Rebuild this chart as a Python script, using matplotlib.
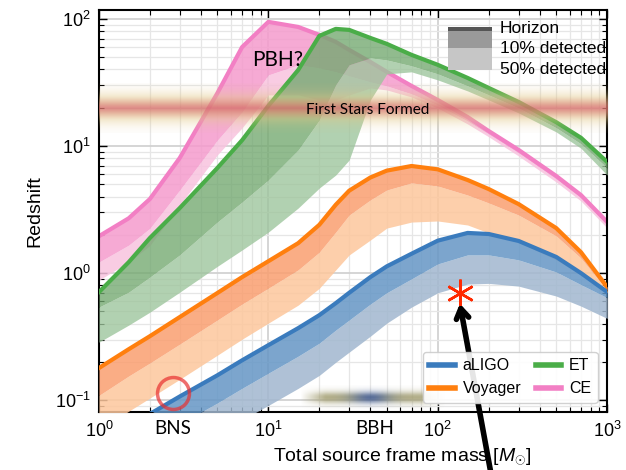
import matplotlib
matplotlib.use("Agg")
import matplotlib.pyplot as plt
import numpy as np
from matplotlib.patches import Rectangle

plt.rcParams["font.family"] = ["Liberation Sans", "DejaVu Sans"]
plt.rcParams["mathtext.fontset"] = "custom"
plt.rcParams["mathtext.rm"] = "Liberation Sans"
plt.rcParams["mathtext.it"] = "Liberation Sans:italic"

# total source frame mass grid [Msun]
mass = [1, 1.5, 2, 3, 5, 7, 10, 15, 20, 25, 30, 40, 50, 70, 100, 150, 200, 300, 500, 700, 1000]

# redshift: horizon, 10% detected, 50% detected
ligo_hor = [0.046, 0.062, 0.078, 0.107, 0.157, 0.206, 0.271, 0.369, 0.467, 0.58, 0.70,
            0.93, 1.13, 1.42, 1.80, 2.07, 2.03, 1.79, 1.34, 1.0, 0.71]
ligo_10 = [0.028, 0.038, 0.047, 0.065, 0.095, 0.124, 0.163, 0.222, 0.281, 0.356, 0.427,
           0.57, 0.70, 0.90, 1.18, 1.39, 1.39, 1.27, 1.02, 0.81, 0.64]
ligo_50 = [0.0155, 0.021, 0.026, 0.036, 0.053, 0.070, 0.091, 0.124, 0.157, 0.199, 0.239,
           0.319, 0.404, 0.54, 0.70, 0.82, 0.83, 0.79, 0.66, 0.55, 0.44]

voy_hor = [0.179, 0.252, 0.319, 0.451, 0.697, 0.93, 1.24, 1.72, 2.40, 3.45, 4.45,
           5.65, 6.40, 6.96, 6.55, 5.40, 4.58, 3.49, 2.26, 1.46, 0.776]
voy_10 = [0.109, 0.155, 0.196, 0.276, 0.427, 0.57, 0.76, 1.06, 1.46, 2.10, 2.86,
          3.76, 4.50, 5.12, 4.84, 4.11, 3.56, 2.86, 1.96, 1.31, 0.73]
voy_50 = [0.058, 0.082, 0.104, 0.146, 0.226, 0.302, 0.404, 0.56, 0.76, 1.06, 1.39,
          1.82, 2.26, 2.52, 2.57, 2.39, 2.07, 1.75, 1.27, 0.98, 0.70]

et_hor = [0.708, 1.22, 1.89, 3.25, 6.71, 11.1, 20.7, 39.6, 73.5, 83.4, 81.9,
          70.8, 63.6, 52.1, 43.5, 34.3, 28.6, 22.2, 15.4, 11.6, 7.48]
et_10 = [0.54, 0.708, 0.93, 1.39, 2.52, 3.62, 5.40, 9.3, 16.0, 30.2, 43.5,
         49.3, 47.5, 42.7, 36.9, 29.7, 25.2, 19.9, 13.9, 10.4, 6.71]
et_50 = [0.286, 0.39, 0.493, 0.708, 1.13, 1.52, 2.10, 3.25, 4.67, 5.91, 7.76,
         23.0, 36.9, 38.3, 33.1, 27.1, 23.0, 18.2, 12.9, 9.6, 5.9]

ce_hor = [1.95, 2.70, 3.83, 8.05, 26.0, 60.0, 94.7, 86.4, 74.8, 65.9, 57.0,
          45.8, 38.3, 29.7, 23.0, 16.9, 13.1, 9.31, 5.81, 4.11, 2.52]
ce_10 = [1.22, 1.66, 2.25, 4.50, 11.1, 18.5, 36.2, 43.5, 41.1, 38.3, 35.6,
         31.9, 29.7, 25.7, 21.0, 15.7, 12.4, 8.81, 5.50, 3.90, 2.39]
ce_50 = [0.88, 1.22, 1.65, 3.43, 8.5, 13.9, 25.2, 25.2, 23.0, 23.0, 25.2,
         28.6, 27.6, 24.3, 19.9, 14.9, 11.8, 8.34, 5.21, 3.69, 2.26]

# (name, horizon, 10%, 50%, line colour, 10% fill, 50% fill, fill alpha)
detectors = [
    ("CE", ce_hor, ce_10, ce_50, "#f27fc4", "#f59bcd", "#f8c3df", 0.85),
    ("ET", et_hor, et_10, et_50, "#4aad48", "#72a86f", "#9cc49b", 0.78),
    ("Voyager", voy_hor, voy_10, voy_50, "#ff7f0e", "#fa9f70", "#fdc79c", 0.85),
    ("aLIGO", ligo_hor, ligo_10, ligo_50, "#3a7bbd", "#6596c5", "#a1b7cf", 0.85),
]

fig, ax = plt.subplots(figsize=(6.26, 4.70), dpi=100)
fig.subplots_adjust(left=0.158, right=0.970, bottom=0.123, top=0.979)

handles = {}
for i, (name, hor, z10, z50, lc, c10, c50, a) in enumerate(detectors):
    zo = 2 + i
    ax.fill_between(mass, z50, z10, color=c50, alpha=a, lw=0, zorder=zo)
    ax.fill_between(mass, z10, hor, color=c10, alpha=a, lw=0, zorder=zo)
    handles[name], = ax.plot(mass, hor, color=lc, lw=3, zorder=zo + 0.5, label=name)

ax.set_xscale("log")
ax.set_yscale("log")
ax.set_xlim(1, 1000)
ax.set_ylim(0.0805, 117.7)

ax.grid(True, which="major", color="#d2d2d2", lw=1.3)
ax.grid(True, which="minor", color="#e6e6e6", lw=0.9)
ax.set_axisbelow(True)
ax.tick_params(which="both", direction="in", top=True, right=True, labelsize=13)
ax.tick_params(which="major", length=6, width=1, pad=6)
ax.tick_params(which="minor", length=3.5, width=0.8)
for s in ax.spines.values():
    s.set_linewidth(1.5)

ax.set_xlabel(r"Total source frame mass [$M_{\odot}$]", fontsize=14, x=0.596)
ax.set_ylabel("Redshift", fontsize=14, labelpad=8)

# "first stars" blurred band around z ~ 20
d = np.linspace(-25, 25, 101)
t = np.clip(np.abs(d) / 12, 0, 1)[:, None]
rgba = np.zeros((101, 2, 4))
rgba[..., 0] = (215 + 10 * t) / 255
rgba[..., 1] = (112 + 85 * t) / 255
rgba[..., 2] = (108 + 22 * t) / 255
rgba[..., 3] = (0.8 * np.exp(-(d / 14) ** 2))[:, None]
ax.imshow(rgba, extent=[0, 1, 0.756 - 0.062, 0.756 + 0.062], transform=ax.transAxes,
          aspect="auto", interpolation="bilinear", zorder=7)
ax.text(16.6, 19.2, "First Stars Formed", family="Lato", fontsize=11, va="center", zorder=8)

# blurred BBH region at the bottom
px = np.linspace(300, 445, 120)
py = np.linspace(386, 412, 30)
PX, PY = np.meshgrid(px, py)
w = np.exp(-((PX - 370) / 20) ** 2)
bb = np.zeros(PX.shape + (4,))
bb[..., 0] = (w * 60 + (1 - w) * 165) / 255
bb[..., 1] = (w * 85 + (1 - w) * 160) / 255
bb[..., 2] = (w * 135 + (1 - w) * 115) / 255
edge = np.clip((PX - 300) / 25, 0, 1) * np.clip((445 - PX) / 25, 0, 1)
bb[..., 3] = 0.85 * np.exp(-((PY - 398) / 6) ** 2) * edge
ax.imshow(bb, extent=[(300 - 99) / 508, (445 - 99) / 508, 0, (412 - 386) / 402],
          transform=ax.transAxes, aspect="auto", interpolation="bilinear", zorder=7)

ax.text(8.0, 47.5, "PBH?", family="Lato", fontsize=15, va="center", zorder=8)
ax.text(2.73, -0.04, "BNS", family="Lato", fontsize=13.5, ha="center", va="center",
        transform=ax.get_xaxis_transform())
ax.text(42.5, -0.04, "BBH", family="Lato", fontsize=13.5, ha="center", va="center",
        transform=ax.get_xaxis_transform())

# BNS circle, red marker and arrow
ax.plot(2.73, 0.1135, "o", ms=23, mfc="none", mec="#e83030", mew=2.5, alpha=0.7, zorder=9)
ax.plot(135, 0.70, marker=(6, 2, 0), ms=20, mew=1.8, color="#ff2a00", zorder=10)
ax.annotate("", xy=(135, 0.575), xycoords="data", xytext=(0.786, -0.02),
            textcoords="figure fraction", annotation_clip=False,
            arrowprops=dict(arrowstyle="->,head_length=0.7,head_width=0.45", lw=4,
                            color="black", shrinkA=0, shrinkB=0), zorder=11)

leg = ax.legend([handles["aLIGO"], handles["Voyager"], handles["ET"], handles["CE"]],
                ["aLIGO", "Voyager", "ET", "CE"], loc="lower right", ncol=2, fontsize=11.5,
                handlelength=1.6, columnspacing=0.9, handletextpad=0.5,
                borderaxespad=0.6, framealpha=0.9, edgecolor="#cccccc")
for h in leg.legend_handles:
    h.set_linewidth(4)
leg.set_zorder(12)

# band-style key at upper right
ax.add_patch(Rectangle((0.687, 0.905), 0.087, 0.043, transform=ax.transAxes,
                       color="#9a9a9a", lw=0, zorder=12))
ax.add_patch(Rectangle((0.687, 0.851), 0.087, 0.054, transform=ax.transAxes,
                       color="#c6c6c6", lw=0, zorder=12))
ax.add_patch(Rectangle((0.687, 0.948), 0.087, 0.010, transform=ax.transAxes,
                       color="#555555", lw=0, zorder=12))
for yy, lab in [(0.954, "Horizon"), (0.903, "10% detected"), (0.851, "50% detected")]:
    ax.text(0.789, yy, lab, transform=ax.transAxes, fontsize=12.5, va="center", zorder=12)

fig.savefig("out.png", dpi=100)
